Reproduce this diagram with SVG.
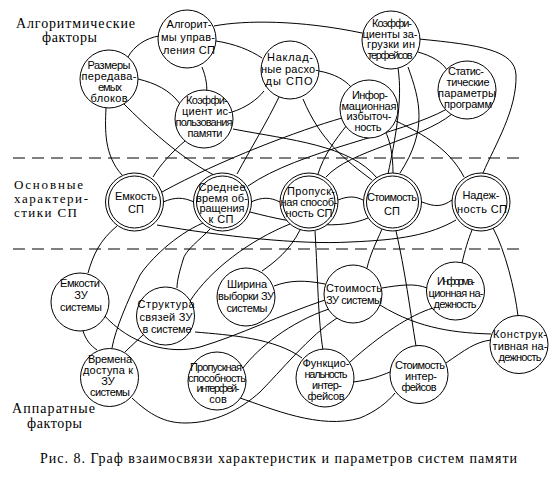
<svg xmlns="http://www.w3.org/2000/svg" width="559" height="477" viewBox="0 0 559 477">
<style>
.bg{fill:#fff}
.c path{fill:none;stroke:#000;stroke-width:1}
.dash{stroke:#000;stroke-width:1;stroke-dasharray:12 7}
.nd circle{fill:#fff;stroke:#000;stroke-width:1}
.nd text{font-family:"Liberation Sans",Arial,sans-serif;font-size:11px;text-anchor:middle;fill:#000}
.lb{font-family:"Liberation Serif","Times New Roman",serif;font-size:14px;fill:#000}
.lb2{font-family:"Liberation Serif","Times New Roman",serif;font-size:13px;fill:#000}
</style>
<rect class="bg" x="0" y="0" width="559" height="477"/>
<line class="dash" x1="13" y1="158" x2="525" y2="158"/>
<line class="dash" x1="13" y1="249" x2="525" y2="249"/>
<g class="c" id="connectors">
<path d="M159,36 C146,38 134,46 128,57"/>
<path d="M214,26 C245,20 300,20 362,33"/>
<path d="M216,41 C235,44 250,50 262,58"/>
<path d="M202,67 C206,77 208,88 206,95"/>
<path d="M138,79 C155,83 170,90 180,104"/>
<path d="M106,108 C105,130 104,155 122,175"/>
<path d="M124,104 C145,125 180,158 214,175"/>
<path d="M185,141 C172,152 160,165 153,177"/>
<path d="M232,112 C245,108 257,100 264,91"/>
<path d="M233,129 C290,140 350,145 377,178"/>
<path d="M319,71 C335,74 345,80 351,87"/>
<path d="M279,97 C268,120 250,150 237,174"/>
<path d="M303,99 C320,140 345,160 372,180"/>
<path d="M418,52 C432,56 442,62 447,70"/>
<path d="M419,39 C480,45 515,50 516,75 C517,110 495,145 483,173"/>
<path d="M398,68 C403,100 395,140 388,174"/>
<path d="M408,67 C420,100 428,130 400,173"/>
<path d="M396,121 C425,135 450,150 464,177"/>
<path d="M385,131 C390,140 393,155 393,173"/>
<path d="M347,125 C335,140 324,155 318,174"/>
<path d="M447,109 C400,135 300,150 248,186"/>
<path d="M452,114 C420,140 350,150 326,177"/>
<path d="M162,192 C220,160 300,130 342,118"/>
<path d="M163,202 C175,197 183,197 194,202"/>
<path d="M251,202 C262,197 270,197 280,202"/>
<path d="M338,200 C348,196 355,196 363,200"/>
<path d="M422,202 C435,207 442,207 452,200"/>
<path d="M157,225 C220,236 300,245 350,242 C400,240 430,235 456,220"/>
<path d="M117,226 C100,240 93,255 88,273"/>
<path d="M203,223 C175,235 150,260 140,275 C128,300 115,330 112,348"/>
<path d="M210,229 C200,240 185,250 183,260 C180,270 177,280 177,288"/>
<path d="M290,224 C250,240 210,270 190,301"/>
<path d="M262,271 C275,262 290,250 300,230"/>
<path d="M274,286 C290,280 305,280 325,284"/>
<path d="M315,231 C318,280 318,320 323,350"/>
<path d="M250,212 C300,225 340,230 368,218"/>
<path d="M83,331 C86,340 90,345 97,350"/>
<path d="M125,352 C132,345 138,340 145,333"/>
<path d="M103,314 C130,345 170,355 200,347 C240,335 280,315 325,300"/>
<path d="M195,332 C230,335 275,338 302,358"/>
<path d="M243,368 C258,348 290,322 329,309"/>
<path d="M132,398 C150,415 165,423 185,423 C215,423 240,410 260,392 C280,372 310,335 337,318"/>
<path d="M240,398 C270,408 320,430 360,418 C375,412 388,402 395,393"/>
<path d="M382,229 C375,245 370,255 367,268"/>
<path d="M396,231 C405,270 410,310 416,346"/>
<path d="M472,230 C468,240 465,250 462,263"/>
<path d="M493,228 C505,250 515,290 518,316"/>
<path d="M382,288 C400,285 415,283 427,288"/>
<path d="M380,305 C420,330 460,333 491,334"/>
<path d="M353,382 C370,380 380,376 390,372"/>
<path d="M350,362 C380,335 410,315 433,308"/>
<path d="M446,363 C465,350 475,342 491,340"/>
</g>
<g class="nd" id="n-algo"><circle cx="187" cy="39" r="29"/><text x="189" y="28" textLength="45">Алгорит-</text><text x="188" y="41" textLength="54">мы управ-</text><text x="189" y="54" textLength="52">ления СП</text></g>
<g class="nd" id="n-razm"><circle cx="109" cy="79" r="29"/><text x="109" y="69" textLength="43">Размеры</text><text x="109" y="80" textLength="55">передава-</text><text x="110" y="91" textLength="24">емых</text><text x="109" y="102" textLength="37">блоков</text></g>
<g class="nd" id="n-koef"><circle cx="204" cy="119" r="29"/><text x="207" y="104" textLength="42">Коэффи-</text><text x="207" y="115" textLength="50">циент ис-</text><text x="204" y="126" textLength="57">пользования</text><text x="205" y="137" textLength="35">памяти</text></g>
<g class="nd" id="n-nakl"><circle cx="290" cy="70" r="29"/><text x="290" y="61" textLength="46">Наклад-</text><text x="290" y="73" textLength="58">ные расхо-</text><text x="289" y="85" textLength="47">ды СПО</text></g>
<g class="nd" id="n-kzagr"><circle cx="391" cy="40" r="29"/><text x="392" y="27" textLength="40">Коэффи-</text><text x="390" y="37.5" textLength="55">циенты за-</text><text x="391" y="48" textLength="48">грузки ин</text><text x="390" y="58.5" textLength="45">терфейсов</text></g>
<g class="nd" id="n-stat"><circle cx="467" cy="90" r="29"/><text x="466" y="75" textLength="36">Статис-</text><text x="468" y="86" textLength="43">тические</text><text x="467" y="97" textLength="58">параметры</text><text x="468" y="108" textLength="48">программ</text></g>
<g class="nd" id="n-inf"><circle cx="369" cy="109" r="29"/><text x="370" y="99" textLength="36">Инфор-</text><text x="369" y="109.5" textLength="55">мационная</text><text x="369" y="120" textLength="45">избыточ-</text><text x="368" y="130.5" textLength="27">ность</text></g>
<g class="nd" id="n-emk"><circle cx="134.5" cy="202" r="29"/><circle cx="134.5" cy="202" r="26"/><text x="136" y="200" textLength="42">Емкость</text><text x="136" y="213">СП</text></g>
<g class="nd" id="n-sred"><circle cx="222.5" cy="202" r="29"/><circle cx="222.5" cy="202" r="26"/><text x="222" y="191" textLength="47">Среднее</text><text x="222" y="201.5" textLength="52">время об-</text><text x="222" y="212" textLength="45">ращения</text><text x="221" y="222.5" textLength="25">к СП</text></g>
<g class="nd" id="n-prop"><circle cx="309" cy="202" r="29"/><circle cx="309" cy="202" r="26"/><text x="311" y="195" textLength="48">Пропуск-</text><text x="309" y="206" textLength="57">ная способ-</text><text x="309" y="217" textLength="47">ность СП</text></g>
<g class="nd" id="n-stoim"><circle cx="392.5" cy="202" r="29"/><circle cx="392.5" cy="202" r="26"/><text x="392" y="201" textLength="50">Стоимость</text><text x="392" y="215">СП</text></g>
<g class="nd" id="n-nad"><circle cx="481" cy="202" r="29"/><circle cx="481" cy="202" r="26"/><text x="481" y="199" textLength="37">Надеж-</text><text x="482" y="213" textLength="50">ность СП</text></g>
<g class="nd" id="n-emkzu"><circle cx="80" cy="302" r="29"/><text x="80" y="287" textLength="40">Емкости</text><text x="81" y="299">ЗУ</text><text x="81" y="311" textLength="42">системы</text></g>
<g class="nd" id="n-strukt"><circle cx="165.5" cy="316" r="29"/><text x="166" y="308" textLength="57">Структура</text><text x="166" y="320.5" textLength="53">связей ЗУ</text><text x="167" y="333" textLength="49">в системе</text></g>
<g class="nd" id="n-shir"><circle cx="246" cy="297" r="29"/><text x="247" y="288" textLength="40">Ширина</text><text x="246" y="300" textLength="56">выборки ЗУ</text><text x="247" y="312" textLength="41">системы</text></g>
<g class="nd" id="n-vrem"><circle cx="109.5" cy="377.5" r="29"/><text x="110" y="363" textLength="44">Времена</text><text x="108" y="374" textLength="50">доступа к</text><text x="108" y="385">ЗУ</text><text x="110" y="396" textLength="40">системы</text></g>
<g class="nd" id="n-propint"><circle cx="217" cy="381" r="29"/><text x="216" y="371" textLength="52">Пропускная</text><text x="217" y="381.5" textLength="58">способность</text><text x="218" y="392" textLength="43">интерфей-</text><text x="218" y="402.5">сов</text></g>
<g class="nd" id="n-stzu"><circle cx="353" cy="294" r="29"/><text x="354" y="292" textLength="56">Стоимость</text><text x="354" y="304" textLength="56">ЗУ системы</text></g>
<g class="nd" id="n-infnad"><circle cx="455.5" cy="291" r="29"/><text x="456" y="285" textLength="38">Информа-</text><text x="456" y="296.5" textLength="55">ционная на-</text><text x="455" y="308" textLength="43">дежность</text></g>
<g class="nd" id="n-konstr"><circle cx="519" cy="344.5" r="29"/><text x="520" y="338" textLength="54">Конструк-</text><text x="520" y="349.5" textLength="55">тивная на-</text><text x="520" y="361" textLength="43">дежность</text></g>
<g class="nd" id="n-funk"><circle cx="325" cy="378" r="29"/><text x="326" y="367" textLength="47">Функцио-</text><text x="326" y="378" textLength="43">нальность</text><text x="327" y="389" textLength="30">интер-</text><text x="326" y="400" textLength="37">фейсов</text></g>
<g class="nd" id="n-stint"><circle cx="419" cy="374.5" r="29"/><text x="420" y="369" textLength="50">Стоимость</text><text x="421" y="380" textLength="32">интер-</text><text x="419" y="391" textLength="35">фейсов</text></g>
<g id="labels">
<text class="lb" x="16" y="28" textLength="119">Алгоритмические</text>
<text class="lb" x="42" y="42" textLength="55">факторы</text>
<text class="lb2" x="14" y="189" textLength="69">Основные</text>
<text class="lb2" x="14" y="203" textLength="74">характери-</text>
<text class="lb2" x="14" y="217" textLength="63">стики СП</text>
<text class="lb" x="12" y="413" textLength="83">Аппаратные</text>
<text class="lb" x="27" y="428" textLength="55">факторы</text>
<text class="lb" x="40" y="463" textLength="477">Рис. 8. Граф взаимосвязи характеристик и параметров систем памяти</text>
</g>
</svg>
